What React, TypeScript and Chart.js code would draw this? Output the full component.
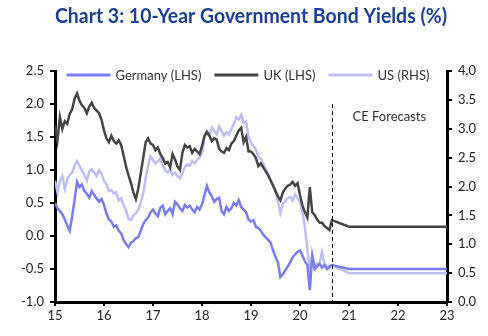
import React, { useEffect, useRef } from "react";
import { Chart, registerables } from "chart.js";

Chart.register(...registerables);

const TITLE = "Chart 3: 10-Year Government Bond Yields (%)";
const FONT = "Lato, 'Open Sans', sans-serif";

// actual data: every 0.05 year from 2015.00 to 2020.60
const actualStart = 2015;
const actualStep = 0.05;

const germany = [
  0.50, 0.42, 0.38, 0.33, 0.25, 0.16, 0.08, 0.30, 0.55, 0.82,
  0.74, 0.78, 0.68, 0.64, 0.58, 0.68, 0.62, 0.57, 0.52, 0.56,
  0.47, 0.34, 0.25, 0.22, 0.14, 0.16, 0.08, 0.04, -0.06, -0.12,
  -0.17, -0.10, -0.08, -0.03, -0.02, 0.08, 0.18, 0.24, 0.28, 0.36,
  0.40, 0.34, 0.30, 0.43, 0.46, 0.33, 0.38, 0.42, 0.33, 0.52,
  0.48, 0.42, 0.38, 0.47, 0.43, 0.46, 0.40, 0.36, 0.44, 0.40,
  0.48, 0.62, 0.76, 0.66, 0.60, 0.52, 0.56, 0.58, 0.38, 0.33,
  0.44, 0.38, 0.42, 0.50, 0.46, 0.54, 0.44, 0.40, 0.36, 0.25,
  0.22, 0.24, 0.14, 0.12, 0.08, 0.02, -0.02, -0.06, -0.10, -0.22,
  -0.32, -0.40, -0.62, -0.58, -0.52, -0.46, -0.40, -0.32, -0.28, -0.24,
  -0.22, -0.30, -0.38, -0.44, -0.82, -0.30, -0.50, -0.46, -0.42, -0.48,
  -0.44, -0.50, -0.46,
];

const uk = [
  1.68, 1.45, 1.80, 1.62, 1.74, 1.70, 1.85, 1.92, 2.08, 2.16,
  2.05, 1.98, 1.94, 1.86, 1.96, 2.02, 1.94, 1.90, 1.86, 1.76,
  1.60, 1.48, 1.42, 1.52, 1.44, 1.40, 1.45, 1.38, 1.22, 1.05,
  0.92, 0.80, 0.66, 0.56, 0.72, 0.95, 1.18, 1.42, 1.48, 1.40,
  1.38, 1.30, 1.34, 1.24, 1.18, 1.10, 1.12, 1.04, 1.24, 1.16,
  1.05, 1.00, 1.26, 1.38, 1.34, 1.36, 1.26, 1.32, 1.28, 1.24,
  1.36, 1.52, 1.58, 1.52, 1.44, 1.48, 1.46, 1.32, 1.28, 1.26,
  1.33, 1.30, 1.40, 1.44, 1.52, 1.60, 1.64, 1.42, 1.50, 1.28,
  1.28, 1.24, 1.18, 1.06, 1.10, 1.04, 0.98, 0.92, 0.84, 0.76,
  0.68, 0.60, 0.54, 0.66, 0.72, 0.76, 0.78, 0.82, 0.76, 0.80,
  0.62, 0.46, 0.36, 0.28, 0.74, 0.36, 0.32, 0.25, 0.20, 0.20,
  0.15, 0.12, 0.09,
];

const us = [
  2.10, 1.90, 2.10, 2.18, 1.96, 2.12, 2.20, 2.24, 2.36, 2.44,
  2.36, 2.28, 2.20, 2.10, 2.26, 2.30, 2.24, 2.18, 2.28, 2.22,
  2.10, 2.04, 1.92, 1.94, 1.88, 1.90, 1.76, 1.80, 1.68, 1.58,
  1.44, 1.42, 1.50, 1.54, 1.60, 1.72, 1.88, 2.14, 2.36, 2.52,
  2.46, 2.40, 2.44, 2.48, 2.36, 2.28, 2.24, 2.30, 2.20, 2.24,
  2.18, 2.14, 2.24, 2.34, 2.38, 2.36, 2.44, 2.40, 2.46, 2.50,
  2.58, 2.84, 2.92, 2.88, 3.02, 2.96, 2.90, 3.04, 2.96, 2.88,
  2.94, 2.90, 3.00, 3.08, 3.20, 3.16, 3.24, 3.10, 3.12, 2.86,
  2.76, 2.70, 2.64, 2.52, 2.48, 2.40, 2.30, 2.22, 2.10, 2.04,
  1.92, 1.74, 1.54, 1.70, 1.74, 1.80, 1.82, 1.76, 1.86, 1.80,
  1.72, 1.56, 1.30, 0.92, 0.56, 0.80, 0.64, 0.66, 0.68, 0.86,
  0.66, 0.62, 0.58,
];

// forecasts
const forecastYears = [2020.65, 2021.0, 2023.0];
const germanyForecast = [-0.44, -0.5, -0.5];
const ukForecast = [0.24, 0.14, 0.14];
const usForecast = [0.64, 0.5, 0.5];
const forecastStart = 2020.65;

const xTicks = [2015, 2016, 2017, 2018, 2019, 2020, 2021, 2022, 2023];
const leftRange = [-1.0, 2.5];
const rightRange = [0.0, 4.0];

const actualYears = germany.map((_, i) => actualStart + i * actualStep);

function series(values: number[], fc: number[]) {
  const pts = values.map((v, i) => ({ x: actualYears[i], y: v }));
  return pts.concat(fc.map((v, i) => ({ x: forecastYears[i], y: v })));
}

const legendPlugin = {
  id: "insideLegend",
  afterDraw(chart: any) {
    const { ctx, chartArea } = chart;
    ctx.save();
    ctx.font = `13px ${FONT}`;
    const lineW = 44;
    const gap = 5;
    const sep = 13;
    const items = chart.data.datasets.map((d: any) => ({
      label: d.label,
      color: d.borderColor,
      w: ctx.measureText(d.label).width,
    }));
    const total =
      items.reduce((s: number, it: any) => s + lineW + gap + it.w, 0) +
      sep * (items.length - 1);
    let x = (chartArea.left + chartArea.right) / 2 - total / 2 - 3;
    const y = chartArea.top + 4;
    for (const it of items) {
      ctx.strokeStyle = it.color;
      ctx.lineWidth = 3;
      ctx.beginPath();
      ctx.moveTo(x, y);
      ctx.lineTo(x + lineW, y);
      ctx.stroke();
      ctx.fillStyle = "#333";
      ctx.textBaseline = "middle";
      ctx.textAlign = "left";
      ctx.fillText(it.label, x + lineW + gap, y + 1);
      x += lineW + gap + it.w + sep;
    }
    ctx.restore();
  },
};

const forecastPlugin = {
  id: "forecastLine",
  afterDatasetsDraw(chart: any) {
    const { ctx, scales } = chart;
    const xs = scales.x;
    const ys = scales.y;
    const px = Math.round(xs.getPixelForValue(forecastStart)) + 0.5;
    ctx.save();
    ctx.strokeStyle = "#000";
    ctx.lineWidth = 1;
    ctx.setLineDash([4, 3]);
    ctx.beginPath();
    ctx.moveTo(px, ys.getPixelForValue(2.0));
    ctx.lineTo(px, ys.getPixelForValue(-1.0));
    ctx.stroke();
    ctx.setLineDash([]);
    ctx.font = `13px ${FONT}`;
    ctx.fillStyle = "#333";
    ctx.textAlign = "left";
    ctx.textBaseline = "middle";
    ctx.fillText("CE Forecasts", px + 20, ys.getPixelForValue(1.8));
    ctx.restore();
  },
};

export default function App() {
  const ref = useRef<HTMLCanvasElement | null>(null);

  useEffect(() => {
    document.body.style.margin = "0";
    document.body.style.background = "#fff";
    const canvas = ref.current;
    if (!canvas) return;
    const tickFont = { family: FONT, size: 13 };
    const chart = new Chart(canvas, {
      type: "line",
      data: {
        datasets: [
          {
            label: "Germany (LHS)",
            data: series(germany, germanyForecast),
            borderColor: "#7B7BF6",
            backgroundColor: "#7B7BF6",
            yAxisID: "y",
          },
          {
            label: "UK (LHS)",
            data: series(uk, ukForecast),
            borderColor: "#454545",
            backgroundColor: "#454545",
            yAxisID: "y",
          },
          {
            label: "US (RHS)",
            data: series(us, usForecast),
            borderColor: "#BDBDF7",
            backgroundColor: "#BDBDF7",
            yAxisID: "y1",
          },
        ] as any,
      },
      options: {
        animation: false,
        responsive: false,
        maintainAspectRatio: false,
        elements: {
          point: { radius: 0 },
          line: { borderWidth: 2.5, tension: 0 },
        },
        layout: { padding: 0 },
        plugins: {
          legend: { display: false },
          tooltip: { enabled: false },
          title: {
            display: true,
            text: TITLE,
            fullSize: false,
            color: "#1B3F93",
            font: { family: FONT, size: 20, weight: "bold" },
            padding: { top: 4.5, bottom: 42.5 },
          },
        },
        scales: {
          x: {
            type: "linear",
            min: xTicks[0],
            max: xTicks[xTicks.length - 1],
            afterBuildTicks: (scale: any) => {
              scale.ticks = xTicks.map((v) => ({ value: v }));
            },
            ticks: {
              font: tickFont,
              color: "#222",
              padding: 2,
              maxRotation: 0,
              callback: (v: any) => String(Number(v) - 2000),
            },
            grid: {
              display: true,
              drawOnChartArea: false,
              drawTicks: true,
              tickLength: 4,
              color: "#000",
              lineWidth: 2,
            },
            border: { display: true, color: "#000", width: 3 },
            afterFit: (scale: any) => {
              scale.height = 34;
            },
          },
          y: {
            position: "left",
            min: leftRange[0],
            max: leftRange[1],
            ticks: {
              stepSize: 0.5,
              font: tickFont,
              color: "#222",
              padding: 6,
              callback: (v: any) => Number(v).toFixed(1),
            },
            grid: {
              display: true,
              drawOnChartArea: false,
              drawTicks: true,
              tickLength: 5,
              color: "#000",
              lineWidth: 2,
            },
            border: { display: true, color: "#000", width: 3 },
            afterFit: (scale: any) => {
              scale.width = 55;
            },
          },
          y1: {
            position: "right",
            min: rightRange[0],
            max: rightRange[1],
            ticks: {
              stepSize: 0.5,
              font: tickFont,
              color: "#222",
              padding: 6,
              callback: (v: any) => Number(v).toFixed(1),
            },
            grid: {
              display: true,
              drawOnChartArea: false,
              drawTicks: true,
              tickLength: 5,
              color: "#000",
              lineWidth: 2,
            },
            border: { display: true, color: "#000", width: 3 },
            afterFit: (scale: any) => {
              scale.width = 41;
            },
          },
        },
      } as any,
      plugins: [legendPlugin, forecastPlugin],
    });
    return () => chart.destroy();
  }, []);

  return (
    <div style={{ width: 488, height: 336, background: "#fff" }}>
      <canvas ref={ref} width={488} height={336} style={{ display: "block" }} />
    </div>
  );
}
